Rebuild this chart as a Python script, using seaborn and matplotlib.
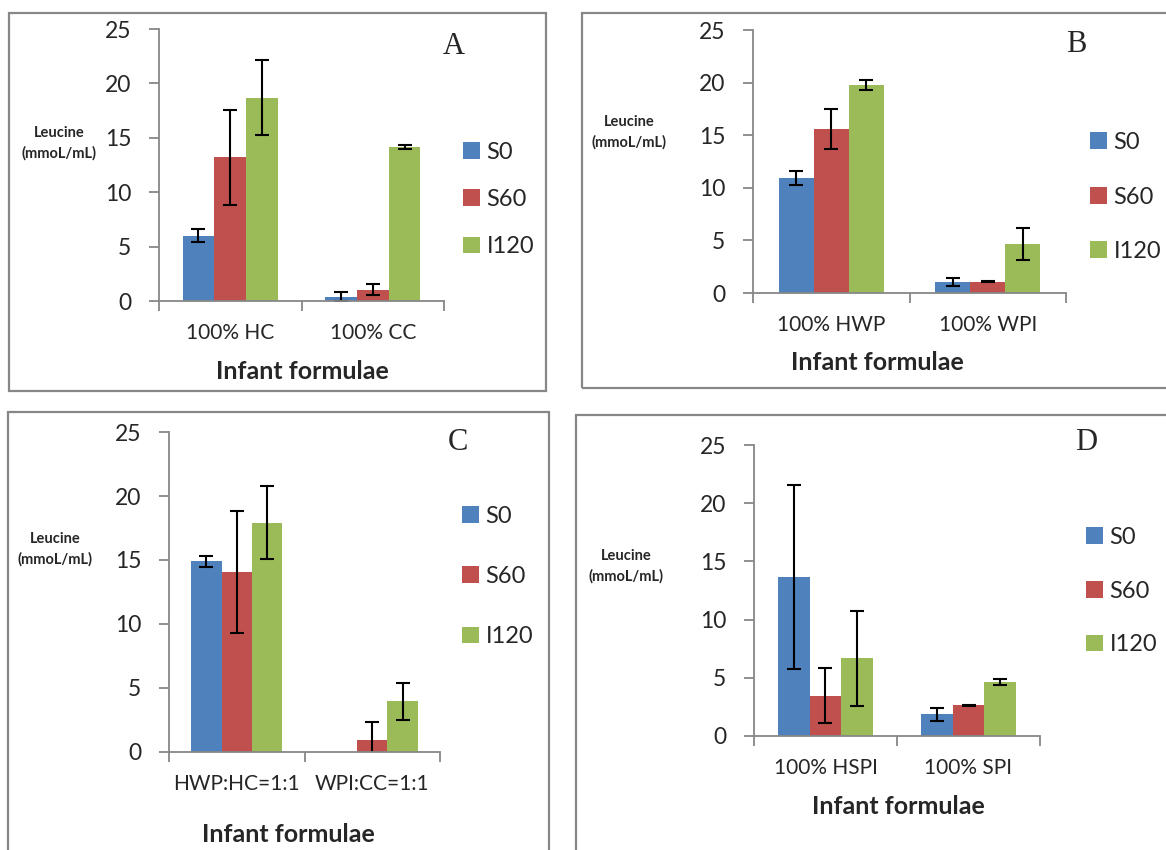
import pandas as pd
import matplotlib.pyplot as plt
import seaborn as sns
from matplotlib.patches import Rectangle

# series shared by all four panels
samples = ["S0", "S60", "I120"]
colors = ["#4F81BD", "#C0504D", "#9BBB59"]

# panel A
formulae_a = ["100% HC", "100% CC"]
mean_a = {"S0": [6.0, 0.4], "S60": [13.2, 1.05], "I120": [18.7, 14.15]}
err_a = {"S0": [0.6, 0.4], "S60": [4.4, 0.52], "I120": [3.45, 0.15]}

# panel B
formulae_b = ["100% HWP", "100% WPI"]
mean_b = {"S0": [10.96, 1.07], "S60": [15.6, 1.07], "I120": [19.77, 4.66]}
err_b = {"S0": [0.67, 0.38], "S60": [1.88, 0.05], "I120": [0.48, 1.5]}

# panel C
formulae_c = ["HWP:HC=1:1", "WPI:CC=1:1"]
mean_c = {"S0": [14.9, 0.0], "S60": [14.09, 0.94], "I120": [17.9, 3.95]}
err_c = {"S0": [0.45, 0.0], "S60": [4.77, 1.38], "I120": [2.86, 1.47]}

# panel D
formulae_d = ["100% HSPI", "100% SPI"]
mean_d = {"S0": [13.69, 1.86], "S60": [3.46, 2.64], "I120": [6.67, 4.64]}
err_d = {"S0": [7.9, 0.57], "S60": [2.36, 0.05], "I120": [4.07, 0.29]}

W, H = 1166, 850
GREY = "#878787"

sns.set_theme(style="white")
plt.rcParams["font.family"] = ["Lato", "DejaVu Sans"]

fig = plt.figure(figsize=(W / 100, H / 100), dpi=100)


def fx(px):
    return px / W


def fy(py):
    return 1 - py / H


def draw_panel(formulae, means, errs, letter, axes_px, box_px, legend_px, spacing,
               letter_px, ylabel_px, xlabel_px):
    left, top, right, bottom = axes_px
    ax = fig.add_axes([fx(left), fy(bottom), (right - left) / W, (bottom - top) / H])

    rows = [(f, s, means[s][i]) for s in samples for i, f in enumerate(formulae)]
    df = pd.DataFrame(rows, columns=["formula", "sample", "value"])
    sns.barplot(data=df, x="formula", y="value", hue="sample", hue_order=samples,
                palette=colors, width=0.67, saturation=1, errorbar=None,
                linewidth=0, ax=ax)

    # error bars on top of the drawn bars
    for cont, s in zip(ax.containers, samples):
        for bar, e in zip(cont, errs[s]):
            h = bar.get_height()
            if h > 0:
                ax.errorbar(bar.get_x() + bar.get_width() / 2, h, yerr=e,
                            color="black", capsize=5, elinewidth=1.5, capthick=1.5)

    ax.set_ylim(0, 25)
    ax.set_xlim(-0.5, len(formulae) - 0.5)
    ax.set_yticks(range(0, 26, 5))
    ax.set_xticks([-0.5, 0.5, 1.5], minor=True)
    ax.tick_params(axis="y", left=True, length=7, width=1.3, color=GREY,
                   pad=13, labelsize=16.5)
    ax.tick_params(axis="x", which="major", bottom=True, length=0, pad=16, labelsize=15)
    ax.tick_params(axis="x", which="minor", bottom=True, length=7, width=1.3, color=GREY)
    for side in ["top", "right"]:
        ax.spines[side].set_visible(False)
    for side in ["left", "bottom"]:
        ax.spines[side].set_color(GREY)
        ax.spines[side].set_linewidth(1.3)

    ax.set_ylabel("")
    ax.set_xlabel("Infant formulae", fontsize=18, fontweight="bold")
    ax.xaxis.set_label_coords(fx(xlabel_px[0]), fy(xlabel_px[1]), transform=fig.transFigure)
    ax.xaxis.label.set_va("center")

    handles, labels = ax.get_legend_handles_labels()
    ax.legend(handles, labels, loc="center left",
              bbox_to_anchor=(fx(legend_px[0]), fy(legend_px[1])),
              bbox_transform=fig.transFigure, frameon=False, fontsize=17,
              handlelength=0.7, handleheight=0.7, handletextpad=0.3,
              labelspacing=spacing, borderpad=0, borderaxespad=0)

    fig.text(fx(ylabel_px[0]), fy(ylabel_px[1]), "Leucine\n(mmoL/mL)",
             fontsize=10.5, fontweight="bold", ha="center", va="center", linespacing=1.5)
    fig.text(fx(letter_px[0]), fy(letter_px[1]), letter, family="Liberation Serif",
             fontsize=22, ha="center", va="center")

    x0, y0, x1, y1 = box_px
    fig.add_artist(Rectangle((fx(x0), fy(y1)), (x1 - x0) / W, (y1 - y0) / H,
                             transform=fig.transFigure, fill=False,
                             edgecolor=GREY, linewidth=1.6))
    return ax


draw_panel(formulae_a, mean_a, err_a, "A", (159, 29, 444, 301), (9, 13, 546, 391),
           (463, 199.5), 1.12, (454, 46), (59, 143), (302, 371))
draw_panel(formulae_b, mean_b, err_b, "B", (753, 30, 1066, 293), (582, 13, 1172, 388),
           (1090, 197), 1.42, (1076, 45), (629, 132), (877, 363))
draw_panel(formulae_c, mean_c, err_c, "C", (169, 432, 440, 752), (8, 412, 549, 856),
           (462, 576.5), 1.66, (458, 442), (55, 549), (288, 834))
draw_panel(formulae_d, mean_d, err_d, "D", (754, 445, 1040, 736), (576, 415, 1172, 856),
           (1086, 591), 1.38, (1086, 443), (626, 566), (898, 806))

fig.savefig("out.png", dpi=100)
